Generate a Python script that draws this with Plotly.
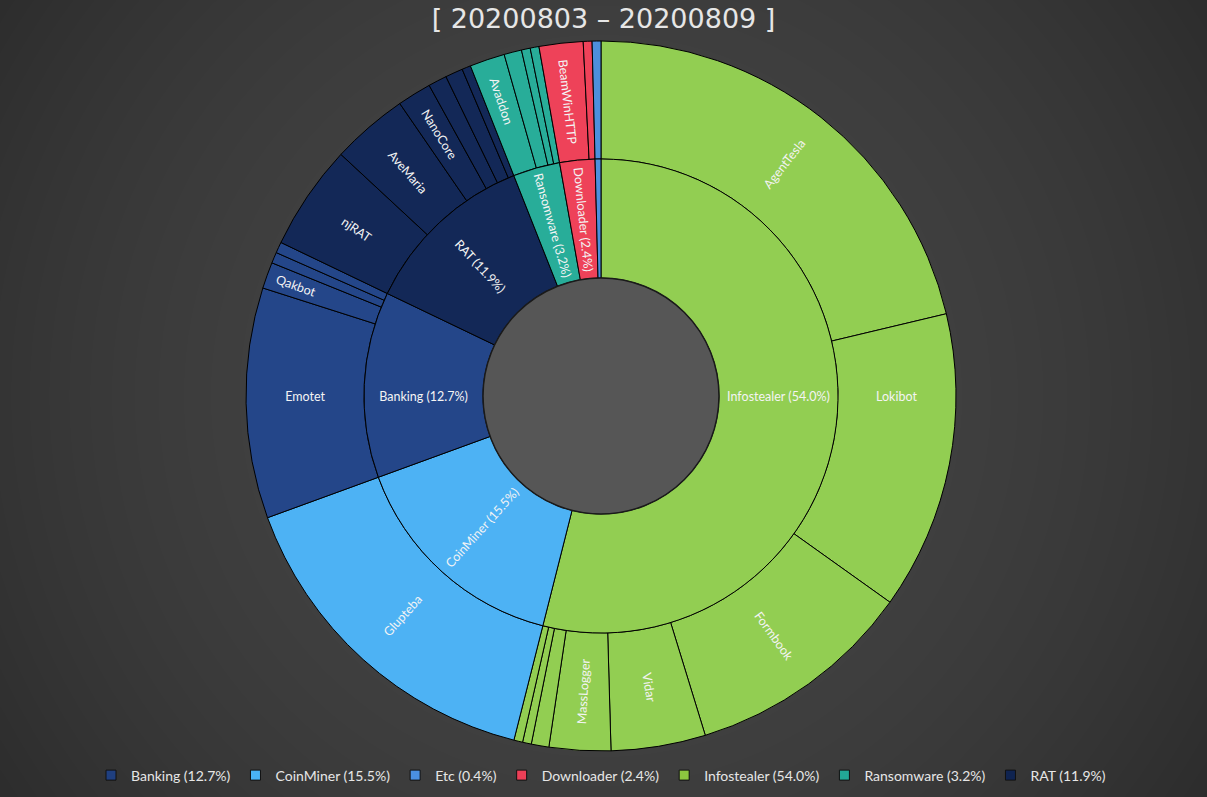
import plotly.graph_objects as go

# weekly share of detections per malware category (inner ring)
categories = ["Infostealer", "CoinMiner", "Banking", "RAT", "Ransomware", "Downloader", "Etc"]
category_shares = [54.0, 15.5, 12.7, 11.9, 3.2, 2.4, 0.4]

# malware families per category (outer ring), unnamed ones are too small to label
family_names = [
    "AgentTesla", "Lokibot", "Formbook", "Vidar", "MassLogger", "", "", "",
    "Glupteba",
    "Emotet", "Qakbot", "", "",
    "njRAT", "AveMaria", "NanoCore", "", "", "",
    "Avaddon", "", "", "",
    "BeamWinHTTP", "",
    "",
]
family_groups = [
    "Infostealer", "Infostealer", "Infostealer", "Infostealer", "Infostealer", "Infostealer", "Infostealer", "Infostealer",
    "CoinMiner",
    "Banking", "Banking", "Banking", "Banking",
    "RAT", "RAT", "RAT", "RAT", "RAT", "RAT",
    "Ransomware", "Ransomware", "Ransomware", "Ransomware",
    "Downloader", "Downloader",
    "Etc",
]
family_shares = [
    21.3, 13.6, 10.4, 4.3, 2.8, 0.8, 0.4, 0.4,
    15.5,
    10.5, 1.2, 0.5, 0.5,
    4.8, 3.5, 1.55, 0.85, 0.8, 0.4,
    1.6, 0.8, 0.4, 0.4,
    2.0, 0.4,
    0.4,
]

legend_order = ["Banking", "CoinMiner", "Etc", "Downloader", "Infostealer", "Ransomware", "RAT"]

slice_colors = {
    "Infostealer": "#92ce52",
    "CoinMiner": "#4db2f4",
    "Banking": "#244689",
    "RAT": "#132857",
    "Ransomware": "#28ad99",
    "Downloader": "#ee4259",
    "Etc": "#4d8fdc",
}
legend_colors = {
    "Infostealer": "#8cc63f",
    "CoinMiner": "#49b2f5",
    "Banking": "#1f3f80",
    "RAT": "#0f2350",
    "Ransomware": "#22a896",
    "Downloader": "#ee3f57",
    "Etc": "#4a90e2",
}

W, H = 1207, 797
M_L, M_R, M_T, M_B = 0, 5, 41, 46
PW, PH = W - M_L - M_R, H - M_T - M_B
R_OUT, R_MID, R_IN = 355, 237, 118

share_of = dict(zip(categories, category_shares))
inner_labels = [f"{c} ({share_of[c]:.1f}%)" for c in categories]
# the tiny Etc slice carries no label inside the ring
inner_text = [lab if share_of[c] >= 1 else "" for c, lab in zip(categories, inner_labels)]

outer_ids = []
for i, (name, group) in enumerate(zip(family_names, family_groups)):
    outer_ids.append(name if name else f"{group} #{i}")

text_font = dict(family="Lato, 'Open Sans', sans-serif", size=12.5, color="#f4f4f4")

fig = go.Figure()

# outer ring: families
fig.add_trace(go.Pie(
    labels=outer_ids,
    values=family_shares,
    text=family_names,
    textinfo="text",
    textposition="inside",
    insidetextorientation="radial",
    insidetextfont=text_font,
    hole=R_MID / R_OUT,
    sort=False,
    direction="clockwise",
    rotation=0,
    marker=dict(colors=[slice_colors[g] for g in family_groups],
                line=dict(color="#000000", width=1)),
    showlegend=False,
    hoverinfo="label+value",
))

# inner ring: categories
dx = R_MID / PW
dy = R_MID / PH
fig.add_trace(go.Pie(
    labels=inner_labels,
    values=category_shares,
    text=inner_text,
    textinfo="text",
    textposition="inside",
    insidetextorientation="radial",
    insidetextfont=text_font,
    hole=R_IN / R_MID,
    sort=False,
    direction="clockwise",
    rotation=0,
    domain=dict(x=[0.5 - dx, 0.5 + dx], y=[0.5 - dy, 0.5 + dy]),
    marker=dict(colors=[slice_colors[c] for c in categories],
                line=dict(color="#000000", width=1)),
    showlegend=False,
    hoverinfo="label",
))

# legend entries (alphabetical, like the original)
for c in legend_order:
    fig.add_trace(go.Scatter(
        x=[None], y=[None],
        mode="markers",
        name=f"{c} ({share_of[c]:.1f}%)",
        marker=dict(symbol="square", size=10, color=legend_colors[c],
                    line=dict(color="#111111", width=1)),
    ))

# radial background glow
shapes = []
n_glow = 24
r_far = 723
for k in range(n_glow):
    r = r_far * (1 - k / n_glow) ** 0.5
    shapes.append(dict(
        type="circle", xref="paper", yref="paper", layer="below",
        x0=0.5 - r / PW, x1=0.5 + r / PW, y0=0.5 - r / PH, y1=0.5 + r / PH,
        fillcolor="rgba(255,255,255,0.0075)", line=dict(width=0),
    ))
# donut hole
shapes.append(dict(
    type="circle", xref="paper", yref="paper", layer="above",
    x0=0.5 - R_IN / PW, x1=0.5 + R_IN / PW, y0=0.5 - R_IN / PH, y1=0.5 + R_IN / PH,
    fillcolor="#565656", line=dict(color="#1a1a1a", width=1.5),
))

fig.update_layout(
    width=W,
    height=H,
    margin=dict(l=M_L, r=M_R, t=M_T, b=M_B),
    paper_bgcolor="#2c2c2c",
    plot_bgcolor="rgba(0,0,0,0)",
    title=dict(
        text="[ 20200803 – 20200809 ]",
        x=0.5, xanchor="center",
        y=0.977, yanchor="middle",
        font=dict(family="'DejaVu Sans', sans-serif", size=27, color="#e6e6e6"),
    ),
    xaxis=dict(visible=False),
    yaxis=dict(visible=False),
    shapes=shapes,
    legend=dict(
        orientation="h",
        x=0.5, xanchor="center",
        y=-0.012, yanchor="top",
        font=dict(family="Lato, 'Open Sans', sans-serif", size=14, color="#e6e6e6"),
        itemwidth=30,
        bgcolor="rgba(0,0,0,0)",
    ),
)

fig.write_html(
    "out.html",
    config={"displayModeBar": False},
    post_script="document.body.style.margin='0';document.body.style.background='#2c2c2c';",
)
